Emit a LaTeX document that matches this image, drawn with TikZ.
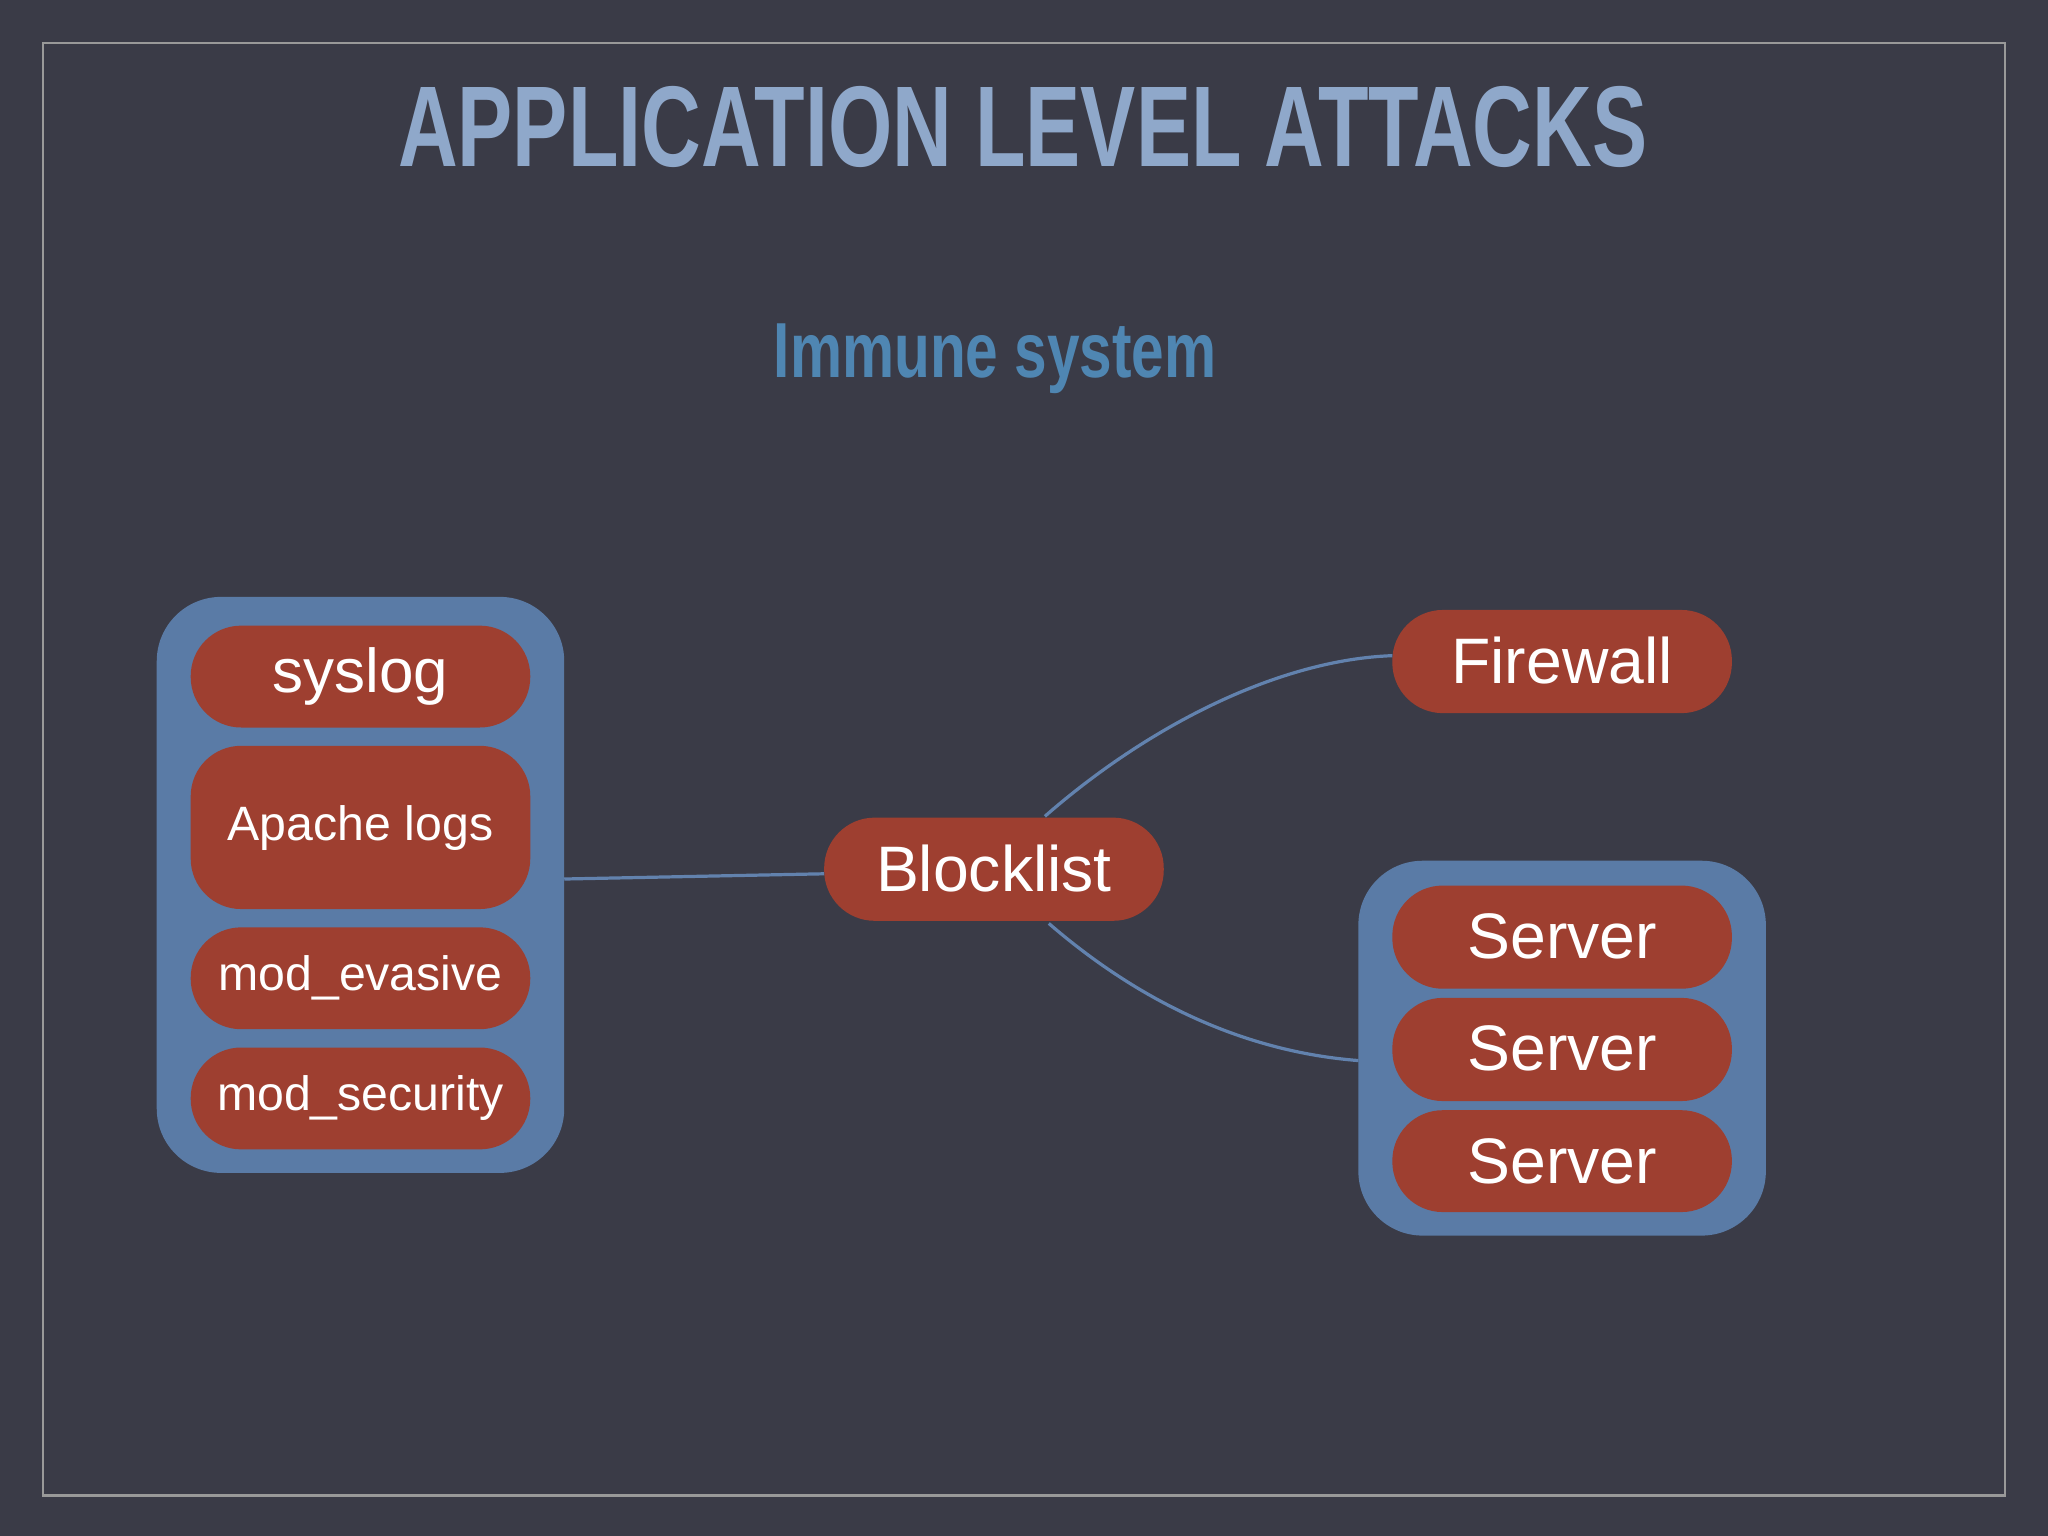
\documentclass[tikz,border=0pt]{standalone}
\usepackage{fontspec}
\setmainfont{Liberation Sans}
\begin{document}
\begin{tikzpicture}[x=0.01cm,y=-0.01cm,
  box/.style={fill=boxred,rounded corners=12pt*0.283/0.283*0.9,draw=none,text=white},
  cont/.style={fill=contblue,rounded corners=14pt,draw=none},
  link/.style={draw=linkblue,line width=0.7pt}]
\definecolor{bg}{HTML}{3A3B47}
\definecolor{boxred}{HTML}{9E3F30}
\definecolor{contblue}{HTML}{5A7BA6}
\definecolor{linkblue}{HTML}{6282AE}
\definecolor{titleblue}{HTML}{8FA8CA}
\definecolor{subblue}{HTML}{4F86B2}
\fill[bg] (0,0) rectangle (1568,1176);
\useasboundingbox (0,0) rectangle (1568,1176);
\draw[gray!80,line width=0.6pt] (33,33) rectangle (1535,1145);
\node[text=titleblue,font=\bfseries\fontsize{25}{28}\selectfont,xscale=0.72] (title) at (783,97) {APPLICATION LEVEL ATTACKS};
\node[text=subblue,font=\bfseries\fontsize{17}{20}\selectfont,xscale=0.75] (sub) at (762,275) {Immune system};
% containers
\path[cont] (120,457) rectangle (432,898);
\path[cont] (1040,659) rectangle (1352,946);
\coordinate (lc) at (432,673);
\coordinate (rc) at (1040,812);
% boxes
\newcommand{\bx}[6]{\path[fill=boxred,rounded corners=12pt] (#2,#3) rectangle (#4,#5);
  \node[text=white,font=#6] (#1) at ({(#2+#4)/2},{(#3+#5)/2}) {};}
\path[fill=boxred,rounded corners=11pt] (146,479) rectangle (406,557);
\node[text=white,font=\fontsize{13.5}{16}\selectfont] (syslog) at (276,518) {syslog};
\path[fill=boxred,rounded corners=11pt] (146,571) rectangle (406,696);
\node[text=white,font=\fontsize{10.5}{13}\selectfont] (apache) at (276,634) {Apache logs};
\path[fill=boxred,rounded corners=11pt] (146,710) rectangle (406,788);
\node[text=white,font=\fontsize{10.5}{13}\selectfont] (evasive) at (276,749) {mod\_evasive};
\path[fill=boxred,rounded corners=11pt] (146,802) rectangle (406,880);
\node[text=white,font=\fontsize{10.5}{13}\selectfont] (security) at (276,841) {mod\_security};
\path[fill=boxred,rounded corners=11pt] (631,626) rectangle (891,705);
\node[text=white,font=\fontsize{14}{16}\selectfont] (block) at (761,665) {Blocklist};
\path[fill=boxred,rounded corners=11pt] (1066,467) rectangle (1326,546);
\node[text=white,font=\fontsize{14}{16}\selectfont] (fw) at (1196,506) {Firewall};
\path[fill=boxred,rounded corners=11pt] (1066,678) rectangle (1326,757);
\node[text=white,font=\fontsize{14}{16}\selectfont] (s1) at (1196,717) {Server};
\path[fill=boxred,rounded corners=11pt] (1066,764) rectangle (1326,843);
\node[text=white,font=\fontsize{14}{16}\selectfont] (s2) at (1196,803) {Server};
\path[fill=boxred,rounded corners=11pt] (1066,850) rectangle (1326,928);
\node[text=white,font=\fontsize{14}{16}\selectfont] (s3) at (1196,889) {Server};
% links
\coordinate (bl) at (631,669);
\coordinate (bt) at (800,625);
\coordinate (bb) at (803,707);
\coordinate (fl) at (1066,502);
\draw[link] (lc) -- (bl);
\draw[link] (bt) .. controls (880,555) and (980,505) .. (fl);
\draw[link] (bb) .. controls (870,765) and (950,805) .. (rc);
\end{tikzpicture}
\end{document}
